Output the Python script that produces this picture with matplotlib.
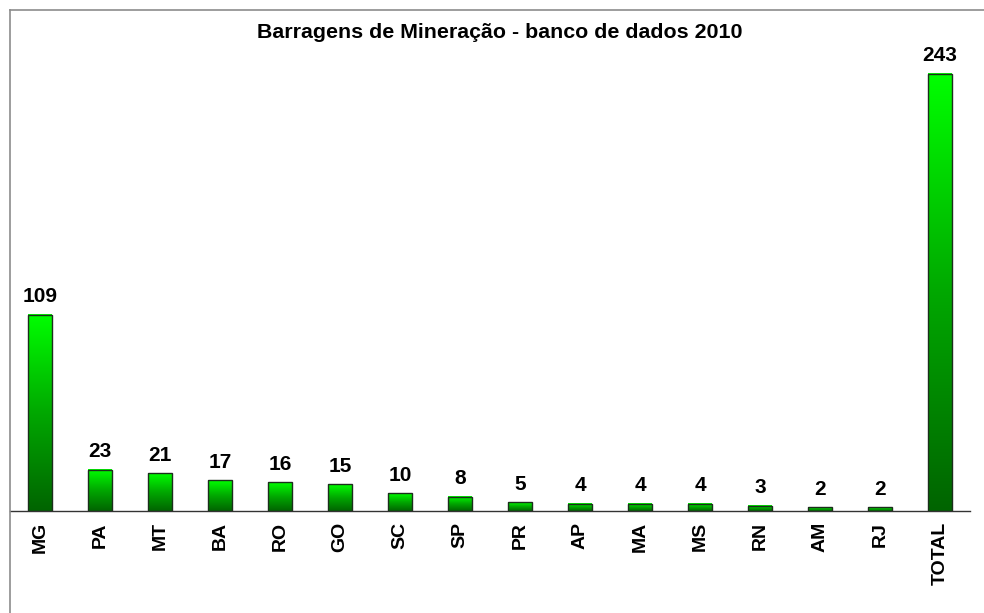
import matplotlib
matplotlib.use("Agg")
import matplotlib.pyplot as plt
import numpy as np
from matplotlib.colors import LinearSegmentedColormap
from matplotlib.lines import Line2D

categories = ["MG", "PA", "MT", "BA", "RO", "GO", "SC", "SP", "PR", "AP", "MA", "MS", "RN", "AM", "RJ", "TOTAL"]
values = [109, 23, 21, 17, 16, 15, 10, 8, 5, 4, 4, 4, 3, 2, 2, 243]
title = "Barragens de Mineração - banco de dados 2010"

plt.rcParams['font.family'] = ['Liberation Sans', 'DejaVu Sans']

W, H = 984, 613
fig = plt.figure(figsize=(W / 100, H / 100), dpi=100)
fig.patch.set_facecolor('white')

# axes geometry in pixels
ax_left, ax_right = 10, 970
ax_bottom_px = 511
ax_top_px = 20
ax = fig.add_axes([ax_left / W, (H - ax_bottom_px) / H,
                   (ax_right - ax_left) / W, (ax_bottom_px - ax_top_px) / H])
px_per_unit = 1.80
ymax = (ax_bottom_px - ax_top_px) / px_per_unit

cmap = LinearSegmentedColormap.from_list("g", ["#006400", "#00a800", "#00ff00"])
grad = np.linspace(0, 1, 256).reshape(-1, 1)

x = np.arange(len(categories))
width = 0.4
bars = ax.bar(x, values, width=width, facecolor='none', edgecolor='#1c2e1c', linewidth=1.0, zorder=3)
for xi, v in zip(x, values):
    ax.imshow(grad, extent=[xi - width / 2, xi + width / 2, 0, v], origin='lower',
              cmap=cmap, aspect='auto', zorder=2, interpolation='bilinear')
    ax.annotate(str(v), (xi, v), xytext=(0, 6), textcoords='offset points',
                ha='center', va='bottom', fontsize=15, fontweight='bold', color='black')

ax.set_xlim(-0.5, len(categories) - 0.5)
ax.set_ylim(0, ymax)
ax.set_xticks(x)
ax.set_xticklabels(categories, rotation=90, fontsize=14, fontweight='bold')
ax.tick_params(axis='x', length=0, pad=8)
ax.set_yticks([])
for s in ['top', 'right', 'left']:
    ax.spines[s].set_visible(False)
ax.spines['bottom'].set_color('#333333')
ax.spines['bottom'].set_linewidth(1.0)
ax.patch.set_alpha(0)

fig.text(0.5 * (258 + 742) / W, 1 - 32 / H, title, ha='center', va='center',
         fontsize=15.4, fontweight='bold')

# chart frame (top and left visible)
fig.add_artist(Line2D([9.5 / W, 1], [1 - 9.5 / H, 1 - 9.5 / H], color='#8c8c8c', lw=1.2))
fig.add_artist(Line2D([9.5 / W, 9.5 / W], [0, 1 - 9.5 / H], color='#8c8c8c', lw=1.2))

fig.savefig("out.png", dpi=100)
